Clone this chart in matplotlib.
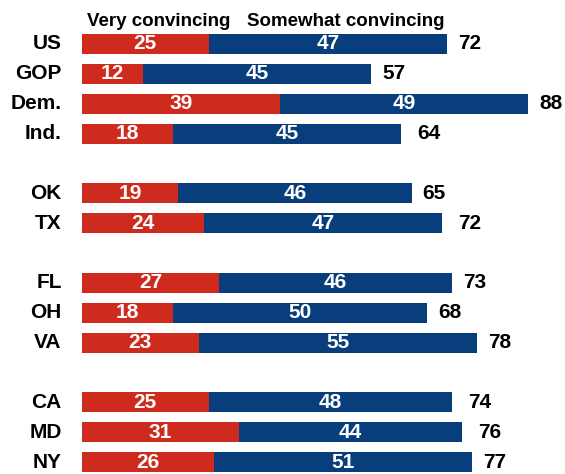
import matplotlib
matplotlib.use('Agg')
import matplotlib.pyplot as plt

# ---------- 数据 ----------
categories = ['US', 'GOP', 'Dem.', 'Ind.', 'OK', 'TX', 'FL', 'OH', 'VA', 'CA', 'MD', 'NY']
very = [25, 12, 39, 18, 19, 24, 27, 18, 23, 25, 31, 26]
somewhat = [47, 45, 49, 45, 46, 47, 46, 50, 55, 48, 44, 51]
totals = [72, 57, 88, 64, 65, 72, 73, 68, 78, 74, 76, 77]
positions = [0, 1, 2, 3, 5, 6, 8, 9, 10, 12, 13, 14]

RED = '#CF2A1E'
BLUE = '#083E7C'
FONT = ['Liberation Sans', 'DejaVu Sans']

plt.rcParams['font.family'] = FONT

fig = plt.figure(figsize=(5.65, 4.74), dpi=100)
ax = fig.add_axes([82 / 565, 0, 483 / 565, 1])

ax.barh(positions, very, height=0.67, color=RED)
ax.barh(positions, somewhat, left=very, height=0.67, color=BLUE)

for y, v, s, t, c in zip(positions, very, somewhat, totals, categories):
    ax.text(v / 2, y, str(v), ha='center', va='center', color='white',
            fontsize=15, fontweight='bold')
    ax.text(v + s / 2, y, str(s), ha='center', va='center', color='white',
            fontsize=15, fontweight='bold')
    ax.text(t + 2.2, y, str(t), ha='left', va='center', color='black',
            fontsize=15, fontweight='bold')
    ax.text(-4, y, c, ha='right', va='center', color='black',
            fontsize=15, fontweight='bold')

# 图例标题
ax.text(1, -0.75, 'Very convincing', ha='left', va='center', fontsize=13.5,
        fontweight='bold')
ax.text(32.5, -0.75, 'Somewhat convincing', ha='left', va='center', fontsize=13.5,
        fontweight='bold')

ax.set_xlim(0, 483 / 5.07)
ax.set_ylim(14.40, -1.473)
ax.axis('off')

fig.savefig('out.png', dpi=100)
